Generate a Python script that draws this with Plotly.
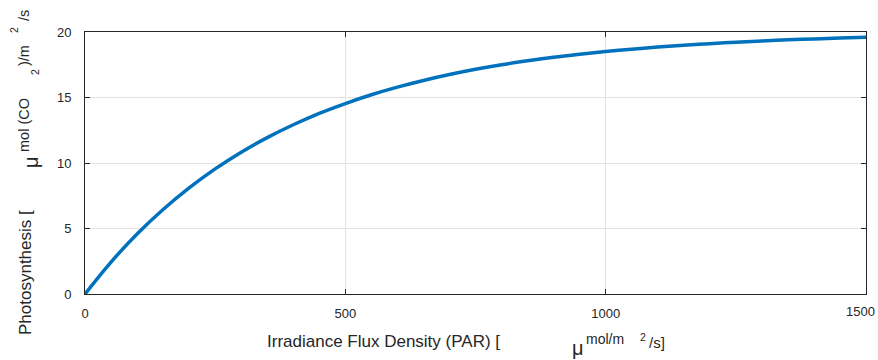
import plotly.graph_objects as go

# Irradiance (PAR) values and photosynthesis values
irradiance = [0, 50, 100, 150, 200, 250, 300, 350, 400, 450, 500, 550, 600, 650, 700, 750,
              800, 850, 900, 950, 1000, 1050, 1100, 1150, 1200, 1250, 1300, 1350, 1400, 1450, 1500]
photosynthesis = [0.0, 2.44, 4.58, 6.45, 8.1, 9.55, 10.83, 11.94, 12.92, 13.79, 14.54, 15.21,
                  15.79, 16.3, 16.75, 17.15, 17.5, 17.8, 18.07, 18.3, 18.51, 18.69, 18.85,
                  18.99, 19.11, 19.22, 19.32, 19.4, 19.47, 19.54, 19.59]

x_ticks = [0, 500, 1000, 1500]
x_tick_labels = ["0", "500", "1000", "1500"]
y_ticks = [0, 5, 10, 15, 20]

W, H = 878, 360
L, R, T, B = 85, 12, 32, 66
pw, ph = W - L - R, H - T - B

def px(xp, yp):
    return (xp - L) / pw, (H - B - yp) / ph

FONT = "Liberation Sans, Arial, sans-serif"
TXT = "#262626"

fig = go.Figure()
fig.add_trace(go.Scatter(x=irradiance, y=photosynthesis, mode="lines",
                         line=dict(color="#0072BD", width=3.5, shape="spline", smoothing=1),
                         hoverinfo="skip", showlegend=False))

axis_common = dict(showline=True, linecolor="#262626", linewidth=1, mirror="ticks",
                   ticks="inside", ticklen=5, tickcolor="#262626", tickwidth=1,
                   showgrid=True, gridcolor="#e3e3e3", gridwidth=1, zeroline=False,
                   tickfont=dict(family=FONT, size=13, color=TXT),
                   ticklabeloverflow="allow", automargin=False)

# last x tick label is drawn separately so it stays inside the page
fig.update_xaxes(range=[0, 1500], tickvals=x_ticks, ticktext=x_tick_labels[:-1] + [""],
                 ticklabelstandoff=7, **axis_common)
fig.update_yaxes(range=[0, 20], tickvals=y_ticks, ticklabelstandoff=10, **axis_common)

fig.add_annotation(text=x_tick_labels[-1], x=x_ticks[-1], y=0, xref="x", yref="y",
                   xanchor="right", yanchor="top", xshift=11, yshift=-8, showarrow=False,
                   font=dict(family=FONT, size=13, color=TXT))

annos = [
    # x label pieces
    ("Irradiance Flux Density (PAR) [", 383.5, 341, 17, 0),
    ("\u03bc", 578, 348, 20, 0),
    ("mol/m", 605, 339, 14, 0),
    ("2", 643, 337, 10.5, 0),
    ("/s]", 657, 342, 15, 0),
    # y label pieces
    ("Photosynthesis [", 25, 273, 17, -90),
    ("\u03bc", 31, 162, 20, -90),
    ("mol (CO", 24, 125, 14.5, -90),
    ("2", 35, 72, 10.5, -90),
    (")/m", 24, 56, 14.5, -90),
    ("2", 14, 30, 10.5, -90),
    ("/s", 24, 16, 14.5, -90),
]
for text, xp, yp, size, ang in annos:
    ax, ay = px(xp, yp)
    fig.add_annotation(text=text, x=ax, y=ay, xref="paper", yref="paper",
                       xanchor="center", yanchor="middle", showarrow=False,
                       textangle=ang, font=dict(family=FONT, size=size, color=TXT))

fig.update_layout(width=W, height=H, margin=dict(l=L, r=R, t=T, b=B, autoexpand=False),
                  plot_bgcolor="white", paper_bgcolor="white")

fig.write_html("out.html")
